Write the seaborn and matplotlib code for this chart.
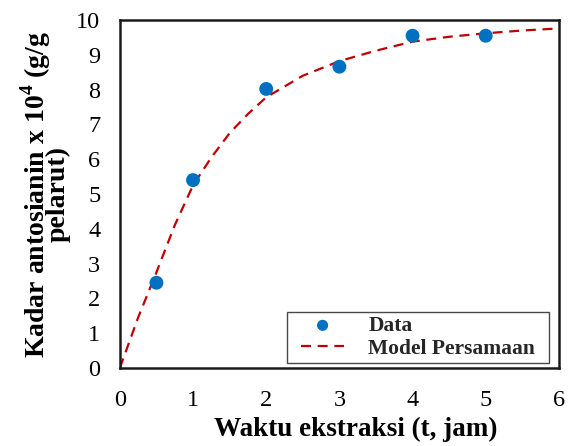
import matplotlib
matplotlib.use("Agg")
import matplotlib.pyplot as plt
from matplotlib.path import Path
import seaborn as sns
import pandas as pd

# Data points
t_data = [0.5, 1, 2, 3, 4, 5]
c_data = [2.45, 5.40, 8.02, 8.66, 9.55, 9.55]

# Model curve values
t_model = [0, 0.25, 0.5, 0.75, 1.0, 1.25, 1.5, 1.75, 2.0, 2.5, 3.0, 3.5, 4.0, 4.5, 5.0, 5.5, 6.0]
c_model = [0, 1.45, 2.75, 4.10, 5.25, 6.05, 6.75, 7.30, 7.78, 8.40, 8.82, 9.12, 9.38, 9.52, 9.62, 9.70, 9.76]

x_ticks = [0, 1, 2, 3, 4, 5, 6]
y_ticks = [0, 1, 2, 3, 4, 5, 6, 7, 8, 9, 10]

sns.set_theme(style="white")
plt.rcParams['font.family'] = ['Liberation Serif', 'DejaVu Serif']
plt.rcParams['mathtext.fontset'] = 'custom'
plt.rcParams['mathtext.rm'] = 'Liberation Serif'
plt.rcParams['mathtext.bf'] = 'Liberation Serif:bold'

fig = plt.figure(figsize=(5.68, 4.46), dpi=100)
ax = fig.add_axes([0.211, 0.175, 0.773, 0.780])

df_model = pd.DataFrame({"t": t_model, "c": c_model})
df_data = pd.DataFrame({"t": t_data, "c": c_data})

sns.lineplot(data=df_model, x="t", y="c", ax=ax, color="#C00000", linewidth=1.6,
             linestyle=(0, (4.5, 3)), label="Model Persamaan", zorder=2)
sns.scatterplot(data=df_data, x="t", y="c", ax=ax, color="#0070C0", s=100,
                edgecolor="none", label="Data", zorder=3)

ax.set_xlim(0, 6)
ax.set_ylim(0, 10)
ax.set_xticks(x_ticks)
ax.set_yticks(y_ticks)
ax.tick_params(axis="both", length=0, labelsize=17.5, colors="black")
ax.tick_params(axis="x", pad=16)
ax.tick_params(axis="y", pad=14)
for s in ax.spines.values():
    s.set_visible(True)
    s.set_color("#1a1a1a")
    s.set_linewidth(1.8)

ax.set_xlabel("Waktu ekstraksi (t, jam)", fontsize=19.5, fontweight="bold",
              color="black")
ax.xaxis.set_label_coords(0.538, -0.14)
ax.set_ylabel("Kadar antosianin x 10$^{\\mathbf{4}}$ (g/g\npelarut)", fontsize=20,
              fontweight="bold", labelpad=4, linespacing=0.6, color="black")

handles, labels = ax.get_legend_handles_labels()
order = [labels.index("Data"), labels.index("Model Persamaan")]
leg = ax.legend([handles[i] for i in order], [labels[i] for i in order],
                loc="lower right", frameon=True, fancybox=False,
                prop={"family": "Liberation Serif", "weight": "bold", "size": 15.5},
                borderpad=0.2, handlelength=2.0, handletextpad=1.12,
                labelspacing=0.12, borderaxespad=0,
                bbox_to_anchor=(0.9556, 0.0144), markerscale=0.8)


def wide_box(x0, y0, width, height, mutation_size):
    px = 9.5
    return Path([(x0 - px, y0), (x0 + width + px, y0), (x0 + width + px, y0 + height),
                 (x0 - px, y0 + height), (x0 - px, y0)],
                [Path.MOVETO, Path.LINETO, Path.LINETO, Path.LINETO, Path.CLOSEPOLY])


leg.get_frame().set_boxstyle(wide_box)
leg.get_frame().set_edgecolor("#1a1a1a")
leg.get_frame().set_linewidth(1.0)

fig.savefig("out.png", dpi=100)
